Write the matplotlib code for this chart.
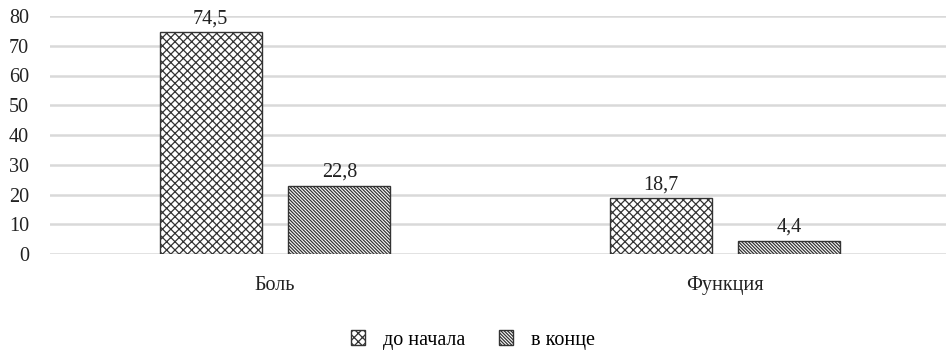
import matplotlib
matplotlib.use("Agg")
import matplotlib.pyplot as plt
import numpy as np

categories = ["Боль", "Функция"]
before = [74.5, 18.7]
after = [22.8, 4.4]
series_names = ["до начала", "в конце"]
y_ticks = [0, 10, 20, 30, 40, 50, 60, 70, 80]

plt.rcParams["font.family"] = ["Liberation Serif", "DejaVu Serif"]
plt.rcParams["hatch.linewidth"] = 0.9
plt.rcParams["hatch.color"] = "#333333"

fig = plt.figure(figsize=(9.46, 3.55), dpi=100)
ax = fig.add_axes([50 / 946, 1 - 254 / 355, 900 / 946, (254 - 16) / 355])

x = np.arange(len(categories))
w = 0.227
off = 0.143

b1 = ax.bar(x - off, before, w, facecolor="white", edgecolor="#333333",
            linewidth=1.0, hatch="xxxx", label=series_names[0], zorder=3)
b2 = ax.bar(x + off, after, w, facecolor="white", edgecolor="#333333",
            linewidth=1.0, hatch="\\" * 10, label=series_names[1], zorder=3)

# value labels above each bar, comma as decimal separator
for bars, vals in ((b1, before), (b2, after)):
    for rect, v in zip(bars, vals):
        ax.annotate(f"{v:.1f}".replace(".", ","),
                    (rect.get_x() + rect.get_width() / 2, v),
                    xytext=(0, 3), textcoords="offset points",
                    ha="center", va="bottom", fontsize=14.5, color="#222222")

ax.set_xlim(-0.5, 1.5)
ax.set_ylim(0, 80)
ax.set_yticks(y_ticks)
ax.set_xticks(x)
ax.set_xticklabels(categories)
ax.tick_params(axis="both", length=0, labelsize=14.5, colors="#222222")
ax.tick_params(axis="x", pad=16)
ax.tick_params(axis="y", pad=15)
ax.yaxis.grid(True, color="#d9d9d9", linewidth=1.8, zorder=0)
ax.set_axisbelow(True)
for s in ax.spines.values():
    s.set_visible(False)

fig.legend(handles=[b1, b2], labels=series_names, loc="center",
           bbox_to_anchor=(473 / 946, 1 - 340 / 355), ncol=2, frameon=False,
           fontsize=14.5, handlelength=0.7, handleheight=0.7, columnspacing=1.7,
           handletextpad=0.9)

fig.savefig("out.png", dpi=100)
